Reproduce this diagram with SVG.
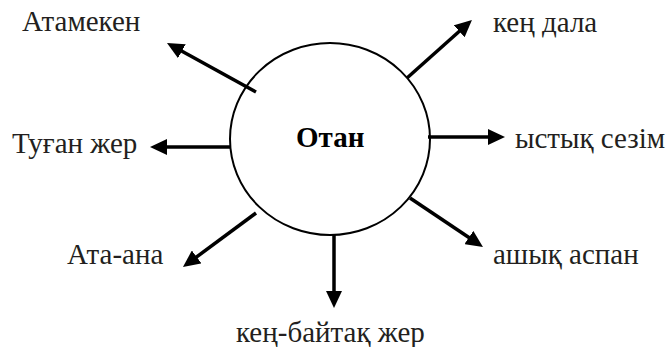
<svg xmlns="http://www.w3.org/2000/svg" width="670" height="347" viewBox="0 0 670 347">
<style>
text{font-family:"Liberation Serif","Times New Roman","DejaVu Serif",serif;font-size:29px;fill:#231f20}
.b{font-weight:bold;fill:#000}
.c{stroke:#000;stroke-width:3.5;fill:none;marker-end:url(#ah)}
</style>
<defs>
<marker id="ah" markerUnits="userSpaceOnUse" markerWidth="17" markerHeight="16" refX="5" refY="8" orient="auto">
<path d="M0,0 L17,8 L0,16 z" fill="#000"/>
</marker>
</defs>
<rect width="670" height="347" fill="#fff"/>
<g id="connectors">
<line class="c" x1="256" y1="92" x2="177.5" y2="48.8"/>
<line class="c" x1="231" y1="147" x2="162" y2="147"/>
<line class="c" x1="407" y1="78" x2="463" y2="28"/>
<line class="c" x1="428" y1="137" x2="493" y2="137"/>
<line class="c" x1="410" y1="198" x2="473" y2="240.3"/>
<line class="c" x1="256" y1="213" x2="192.6" y2="259.9"/>
<line class="c" x1="334" y1="235" x2="334" y2="296"/>
</g>
<g id="otan">
<ellipse cx="330" cy="139" rx="100" ry="96" fill="none" stroke="#000" stroke-width="2"/>
<text class="b" x="296" y="147">Отан</text>
</g>
<g id="atameken"><text x="22" y="31">Атамекен</text></g>
<g id="tugan-zher"><text x="12" y="153">Туған жер</text></g>
<g id="ken-dala"><text x="493" y="32">кең дала</text></g>
<g id="ystyk-sezim"><text x="515" y="148">ыстық сезім</text></g>
<g id="ashyk-aspan"><text x="493" y="264">ашық аспан</text></g>
<g id="ata-ana"><text x="67" y="264">Ата-ана</text></g>
<g id="ken-baitak"><text x="236" y="342">кең-байтақ жер</text></g>
</svg>
